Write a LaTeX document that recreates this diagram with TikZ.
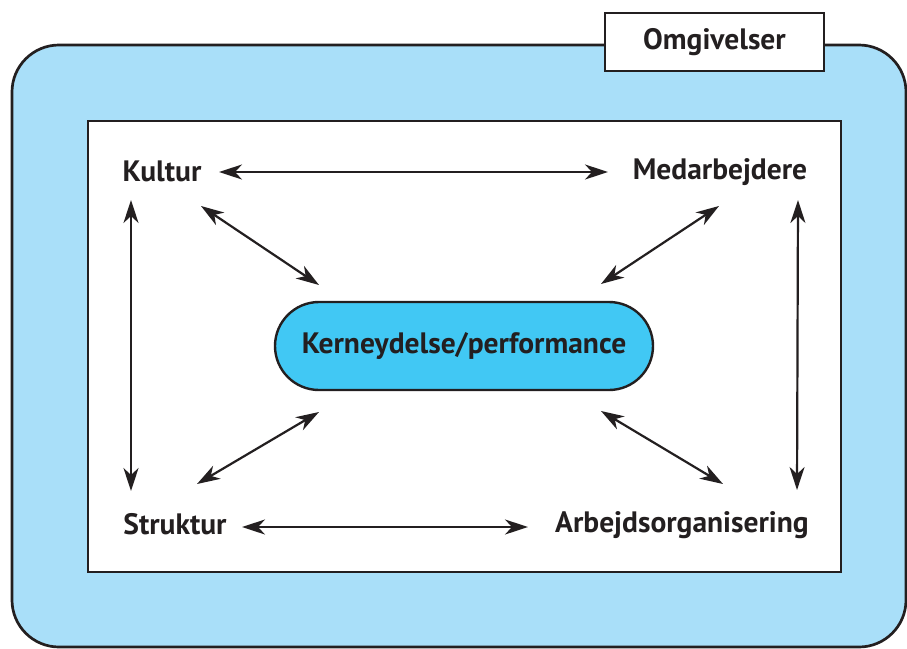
\documentclass[tikz,border=0pt]{standalone}
\usepackage{fontspec}
\setmainfont{PT Sans}
\usepackage{xcolor}
\usepackage{tikz}
\usetikzlibrary{positioning,shapes,arrows.meta,calc}
\definecolor{omgblue}{RGB}{169,223,249}
\definecolor{kerneblue}{RGB}{65,200,244}
\definecolor{ink}{RGB}{35,31,32}
\tikzstyle{factor}=[font=\fontsize{29.5}{34}\selectfont\bfseries, text=ink, inner sep=0pt]
\tikzstyle{kernebox}=[rectangle, rounded corners=44pt, draw=ink, line width=2.4pt,
  fill=kerneblue, minimum width=378pt, minimum height=88pt, inner sep=0pt,
  font=\fontsize{29.5}{34}\selectfont\bfseries, text=ink]
\tikzstyle{line}=[draw=ink, line width=2.2pt,
  {Stealth[length=23pt,width=15pt,inset=7pt]}-{Stealth[length=23pt,width=15pt,inset=7pt]}]

\begin{document}
\begin{tikzpicture}[x=1pt,y=-1pt]
    \useasboundingbox (0,0) rectangle (907,648);
    % omgivelser og ramme
    \draw[ink, line width=2.7pt, fill=omgblue, rounded corners=47pt]
      (12,45) rectangle (906,647);
    \draw[ink, line width=2.7pt, fill=white] (88,121) rectangle (841,572);
    \node (omg) [draw=ink, line width=2.7pt, fill=white, minimum width=219pt,
      minimum height=58pt, inner sep=0pt, font=\fontsize{29.5}{34}\selectfont\bfseries,
      text=ink] at (714.5,42) {Omgivelser};
    % faktorer
    \node (kultur) [factor] at (162,171) {Kultur};
    \node (medarb) [factor] at (720,172) {Medarbejdere};
    \node (struktur) [factor] at (175,524) {Struktur};
    \node (arbejd) [factor] at (682,525) {Arbejdsorganisering};
    \node (kerne) [kernebox] at (464,346) {Kerneydelse/performance};
    % pile
    \draw[line] ($(kultur)+(57,1)$) -- ($(medarb)+(-112,0)$);
    \draw[line] ($(struktur)+(67,3)$) -- ($(arbejd)+(-154,2)$);
    \draw[line] ($(kultur)+(-31,29)$) -- ($(struktur)+(-44,-33)$);
    \draw[line] ($(medarb)+(78,28)$) -- ($(arbejd)+(115,-35)$);
    \draw[line] ($(kultur)+(39,35)$) -- ($(kerne)+(-145,-61)$);
    \draw[line] ($(medarb)+(-1,34)$) -- ($(kerne)+(137,-62)$);
    \draw[line] ($(struktur)+(22,-40)$) -- ($(kerne)+(-145,66)$);
    \draw[line] ($(arbejd)+(41,-41)$) -- ($(kerne)+(137,65)$);
\end{tikzpicture}
\end{document}
